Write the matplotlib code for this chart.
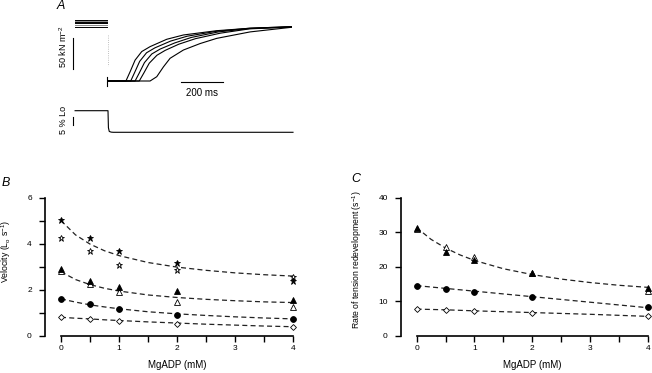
import matplotlib
matplotlib.use("Agg")
import numpy as np
import matplotlib.pyplot as plt

# ---- panel A: tension redevelopment records (time ms, tension kN m-2) ----
pre_t = [-158, -5]
pre_levels = [99.4, 97.5, 95.7, 94.0, 91.2, 88.5]
pre_colors = ["black", "#888888", "black", "black", "#888888", "black"]

trace_t = [
    [0, 86, 106, 130, 162, 202, 282, 362, 522, 682, 880],
    [0, 109, 128, 152, 185, 225, 300, 380, 520, 680, 880],
    [0, 130, 150, 175, 210, 250, 320, 400, 530, 680, 880],
    [0, 150, 172, 198, 235, 275, 340, 420, 540, 680, 880],
    [0, 202, 234, 266, 298, 362, 442, 522, 682, 880],
]
trace_T = [
    [0, 0, 15, 34, 48, 56, 68, 75, 82, 86, 88.5],
    [0, 0, 14, 32, 46, 54, 65, 73, 81, 86, 88.5],
    [0, 0, 13, 30, 44, 52, 62, 71, 80, 85.5, 88],
    [0, 0, 13, 29, 42, 50, 60, 69, 78, 85, 88],
    [0, 0, 7, 23, 37, 50.5, 61, 69.5, 80, 87.5],
]
step_t = [-3, -3]
step_T = [7, -8]

# length record (% Lo)
len_t = [-158, 0, 2, 6, 15, 25, 888]
len_L = [0, 0, -10, -12.2, -12.6, -12.7, -12.7]

# ---- panels B and C: MgADP dependence ----
mgadp = [0, 0.5, 1, 2, 4]
fit_x = [0, 0.25, 0.5, 0.75, 1, 1.5, 2, 2.5, 3, 3.5, 4]

vel_star_filled = [5.01, 4.26, 3.70, 3.14, 2.39]
vel_star_open = [4.26, 3.70, 3.07, 2.86, 2.57]
vel_tri_filled = [2.88, 2.39, 2.13, 1.94, 1.55]
vel_tri_open = [2.81, 2.23, 1.90, 1.45, 1.23]
vel_circle = [1.59, 1.38, 1.16, 0.90, 0.71]
vel_diamond = [0.81, 0.71, 0.62, 0.51, 0.39]

vel_fit_star = [5.0, 4.38, 3.98, 3.69, 3.48, 3.18, 2.98, 2.84, 2.73, 2.65, 2.59]
vel_fit_tri = [2.78, 2.44, 2.22, 2.06, 1.94, 1.77, 1.66, 1.58, 1.52, 1.47, 1.44]
vel_fit_circle = [1.60, 1.46, 1.34, 1.25, 1.17, 1.04, 0.95, 0.88, 0.82, 0.77, 0.73]
vel_fit_diamond = [0.80, 0.76, 0.73, 0.69, 0.66, 0.60, 0.55, 0.50, 0.46, 0.42, 0.39]

ktr_tri_filled = [31.3, 24.1, 22.0, 18.1, 13.8]
ktr_tri_open = [31.0, 25.8, 22.8, 18.2, 12.9]
ktr_circle = [14.5, 13.6, 12.8, 11.1, 8.2]
ktr_diamond = [7.7, 7.3, 7.15, 6.7, 5.6]

ktr_fit_tri = [31.3, 27.9, 25.4, 23.4, 21.8, 19.4, 17.7, 16.4, 15.4, 14.6, 14.0]
ktr_fit_circle = [14.5, 14.1, 13.7, 13.3, 12.9, 12.1, 11.3, 10.5, 9.7, 8.9, 8.1]
ktr_fit_diamond = [7.7, 7.6, 7.5, 7.35, 7.2, 6.95, 6.7, 6.45, 6.2, 5.9, 5.6]

W, H = 652, 373
plt.rcParams["font.family"] = ["Liberation Sans", "DejaVu Sans"]
plt.rcParams["mathtext.fontset"] = "custom"
plt.rcParams["mathtext.rm"] = "Liberation Sans"
plt.rcParams["mathtext.it"] = "Liberation Sans:italic"


def px_rect(x0, y0, x1, y1):
    # pixel box (top-left origin) -> figure fraction rect
    return [x0 / W, 1 - y1 / H, (x1 - x0) / W, (y1 - y0) / H]


def dose_axes(fig, rect, xlim, ylim, yticks, yminor):
    ax = fig.add_axes(rect)
    ax.set_xlim(*xlim)
    ax.set_ylim(*ylim)
    for s in ["top", "right"]:
        ax.spines[s].set_visible(False)
    ax.spines["left"].set_bounds(yticks[0], yticks[-1])
    ax.spines["bottom"].set_bounds(0, 4)
    ax.spines["left"].set_linewidth(1.2)
    ax.spines["bottom"].set_linewidth(1.2)
    ax.set_xticks([0, 1, 2, 3, 4])
    ax.set_xticks([0.5, 1.5, 2.5, 3.5], minor=True)
    ax.set_yticks(yticks)
    if yminor:
        ax.set_yticks(yminor, minor=True)
    ax.tick_params(which="both", direction="out", width=1.0, labelsize=6, colors="black")
    ax.tick_params(axis="y", which="both", length=4.5, pad=5)
    ax.tick_params(axis="x", which="both", length=4, pad=2.5)
    ax.patch.set_alpha(0)
    return ax


def fit(ax, x, y):
    ax.plot(x, y, color="#222222", lw=0.9, ls=(0, (4, 2.6)), zorder=1)


def points(ax, x, y, marker, filled, ms):
    ax.plot(x, y, ls="none", marker=marker, ms=ms, mec="black", mew=0.6,
            mfc="black" if filled else "white", zorder=3, clip_on=False)


def main():
    fig = plt.figure(figsize=(W / 100, H / 100), dpi=100)

    # ---------- A: tension ----------
    axA = fig.add_axes(px_rect(55, 0, 300, 98))
    axA.set_xlim(-254.4, 921.6)
    axA.set_ylim(-27.7, 132.0)
    axA.axis("off")
    for lev, col in zip(pre_levels, pre_colors):
        axA.plot(pre_t, [lev, lev], color=col, lw=0.7)
    axA.plot([0, 0], [75, 25], color="#aaaaaa", lw=0.6, ls=":")
    axA.plot(step_t, step_T, color="black", lw=0.8)
    for tt, TT in zip(trace_t, trace_T):
        axA.plot(tt, TT, color="black", lw=0.8)
    # scale bars
    axA.plot([-168, -168], [20, 70], color="black", lw=0.8)
    axA.plot([350, 550], [-1.5, -1.5], color="black", lw=0.8)
    axA.text(450, -12, "200 ms", ha="center", va="top", fontsize=7)
    fig.text(63 / W, 1 - 47 / H, "50 kN m$^{-2}$", rotation=90,
             ha="center", va="center", fontsize=6.5)

    # ---------- A: length ----------
    axL = fig.add_axes(px_rect(55, 98, 300, 138))
    axL.set_xlim(-254.4, 921.6)
    axL.set_ylim(-16.06, 7.47)
    axL.axis("off")
    axL.plot(len_t, len_L, color="black", lw=0.8)
    axL.plot([-168, -168], [-3.5, -8.5], color="black", lw=0.8)
    fig.text(63 / W, 1 - 120 / H, "5 % Lo", rotation=90,
             ha="center", va="center", fontsize=6.5)

    # ---------- B: velocity ----------
    axB = dose_axes(fig, px_rect(45, 190, 301.7, 335.7),
                    (-0.276, 4.15), (0, 6.33), [0, 2, 4, 6], [1, 3, 5])
    fit(axB, fit_x, vel_fit_star)
    fit(axB, fit_x, vel_fit_tri)
    fit(axB, fit_x, vel_fit_circle)
    fit(axB, fit_x, vel_fit_diamond)
    points(axB, mgadp, vel_star_open, "*", False, 5.0)
    points(axB, mgadp, vel_star_filled, "*", True, 5.0)
    points(axB, mgadp, vel_tri_open, "^", False, 4.2)
    points(axB, mgadp, vel_tri_filled, "^", True, 4.2)
    points(axB, mgadp, vel_circle, "o", True, 4.2)
    points(axB, mgadp, vel_diamond, "D", False, 3.0)
    axB.set_xlabel("MgADP (mM)", fontsize=7)
    axB.xaxis.set_label_coords((177 - 45) / 256.7, -(360 - 335.7) / 145.7)
    axB.set_ylabel("Velocity (L$_\\mathregular{o}$ s$^{-1}$)", fontsize=6.3)
    axB.yaxis.set_label_coords(-(45 - 13) / 256.7, (335.7 - 251) / 145.7)

    # ---------- C: rate of tension redevelopment ----------
    axC = dose_axes(fig, px_rect(401, 190, 652, 335.7),
                    (-0.27, 4.07), (0, 42.2), [0, 10, 20, 30, 40], None)
    fit(axC, fit_x, ktr_fit_tri)
    fit(axC, fit_x, ktr_fit_circle)
    fit(axC, fit_x, ktr_fit_diamond)
    points(axC, mgadp, ktr_tri_open, "^", False, 4.2)
    points(axC, mgadp, ktr_tri_filled, "^", True, 4.2)
    points(axC, mgadp, ktr_circle, "o", True, 4.2)
    points(axC, mgadp, ktr_diamond, "D", False, 3.0)
    axC.set_xlabel("MgADP (mM)", fontsize=7)
    axC.xaxis.set_label_coords((532 - 401) / 251, -(360 - 335.7) / 145.7)
    axC.set_ylabel("Rate of tension redevelopment (s$^{-1}$)", fontsize=6.2)
    axC.yaxis.set_label_coords(-(401 - 364) / 251, (335.7 - 260) / 145.7)

    # panel letters
    fig.text(57 / W, 1 - 6 / H, "A", style="italic", fontsize=9, ha="left", va="center")
    fig.text(2 / W, 1 - 183.5 / H, "B", style="italic", fontsize=9, ha="left", va="center")
    fig.text(351 / W, 1 - 179.5 / H, "C", style="italic", fontsize=9, ha="left", va="center")

    fig.savefig("out.png", dpi=100)


main()
